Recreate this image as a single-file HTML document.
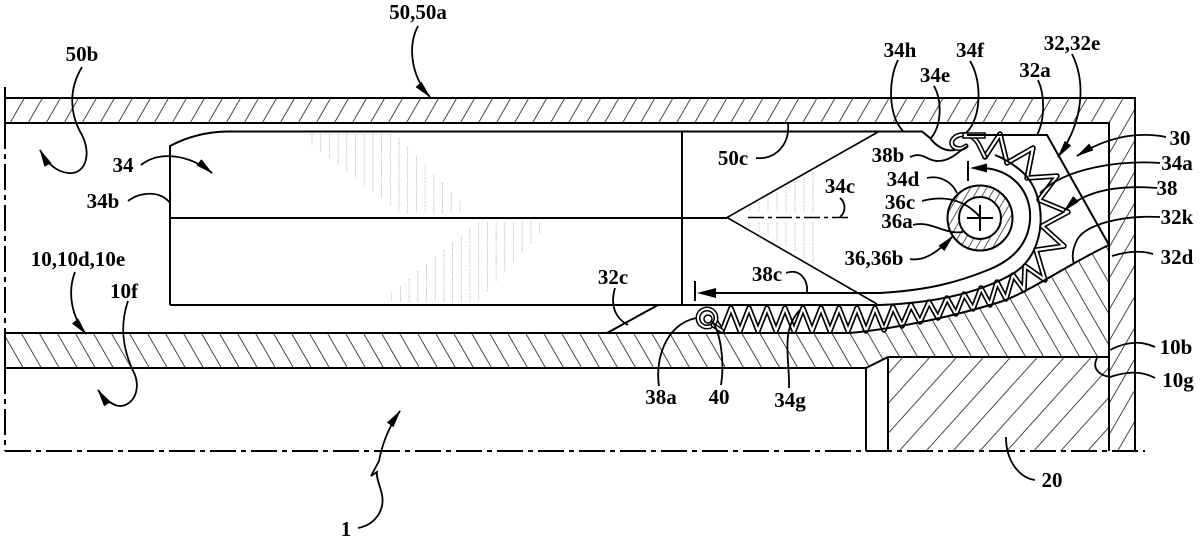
<!DOCTYPE html>
<html><head><meta charset="utf-8"><style>
html,body{margin:0;padding:0;background:#fff;}
svg{display:block;}
text{font-family:"Liberation Serif",serif;font-weight:bold;font-size:21px;fill:#000;}
.o{fill:none;stroke:#000;stroke-width:2;}
.ld{fill:none;stroke:#000;stroke-width:1.8;}
.st{stroke:#aaa;stroke-width:0.8;stroke-dasharray:1.2 1.2;}
</style></head><body>
<svg width="1200" height="540" viewBox="0 0 1200 540" xmlns="http://www.w3.org/2000/svg">
<defs>
<pattern id="hF" patternUnits="userSpaceOnUse" width="15.6" height="30" patternTransform="rotate(30)"><line x1="7.8" y1="-5" x2="7.8" y2="35" stroke="#333" stroke-width="0.9"/></pattern>
<pattern id="hB" patternUnits="userSpaceOnUse" width="15.6" height="30" patternTransform="rotate(-30)"><line x1="7.8" y1="-5" x2="7.8" y2="35" stroke="#333" stroke-width="0.9"/></pattern>
<pattern id="hW" patternUnits="userSpaceOnUse" width="20" height="30" patternTransform="rotate(42)"><line x1="10" y1="-5" x2="10" y2="35" stroke="#333" stroke-width="0.9"/></pattern>
<pattern id="hS" patternUnits="userSpaceOnUse" width="7" height="20" patternTransform="rotate(30)"><line x1="3.5" y1="-5" x2="3.5" y2="25" stroke="#333" stroke-width="0.8"/></pattern>
<marker id="ah" markerWidth="20" markerHeight="10" refX="17" refY="5" orient="auto" markerUnits="userSpaceOnUse"><path d="M0,1 L18,5 L0,9 Z" fill="#000"/></marker>
</defs>
<rect width="1200" height="540" fill="#fff"/>

<!-- hatched housing top & right wall -->
<path d="M5,98 H1135 V451 H1109 V123 H5 Z" fill="url(#hF)"/>
<!-- lower wall / body 32 hatch -->
<path d="M5,333 H850 C900,328 955,316 1000,302 C1030,292 1070,263 1109,245 V357 H888 L866,368 H5 Z" fill="url(#hB)"/>
<!-- body 20 -->
<rect x="888" y="357" width="221" height="94" fill="url(#hW)"/>
<!-- shaft annulus -->
<circle cx="980" cy="218" r="32.5" fill="url(#hS)"/>

<!-- stipple shading -->
<g class="st">
<line x1="312" y1="134" x2="312" y2="145"/><line x1="320.7" y1="134" x2="320.7" y2="151.7"/><line x1="329.4" y1="134" x2="329.4" y2="158.4"/><line x1="338.1" y1="134" x2="338.1" y2="165"/><line x1="346.8" y1="134" x2="346.8" y2="172"/><line x1="355.5" y1="134" x2="355.5" y2="178.5"/><line x1="364.2" y1="134" x2="364.2" y2="185"/><line x1="372.9" y1="134" x2="372.9" y2="192"/><line x1="381.6" y1="134" x2="381.6" y2="198.7"/><line x1="390.3" y1="134" x2="390.3" y2="205.4"/><line x1="399" y1="138" x2="399" y2="212"/><line x1="407.7" y1="147" x2="407.7" y2="213"/><line x1="416.4" y1="156" x2="416.4" y2="213"/><line x1="425.1" y1="165" x2="425.1" y2="213"/><line x1="433.8" y1="174" x2="433.8" y2="213"/><line x1="442.5" y1="183" x2="442.5" y2="213"/><line x1="451.2" y1="192" x2="451.2" y2="213"/><line x1="459.9" y1="201" x2="459.9" y2="213"/>
<line x1="391.7" y1="293" x2="391.7" y2="302"/><line x1="400.4" y1="286" x2="400.4" y2="302"/><line x1="409.1" y1="279" x2="409.1" y2="302"/><line x1="417.8" y1="271" x2="417.8" y2="302"/><line x1="426.5" y1="264" x2="426.5" y2="302"/><line x1="435.2" y1="257" x2="435.2" y2="302"/><line x1="443.9" y1="250" x2="443.9" y2="302"/><line x1="452.6" y1="243" x2="452.6" y2="302"/><line x1="461.3" y1="236" x2="461.3" y2="302"/><line x1="470" y1="229" x2="470" y2="302"/><line x1="478.7" y1="222" x2="478.7" y2="301"/><line x1="487.4" y1="222" x2="487.4" y2="292"/><line x1="496.1" y1="222" x2="496.1" y2="282"/><line x1="504.8" y1="222" x2="504.8" y2="272"/><line x1="513.5" y1="222" x2="513.5" y2="263"/><line x1="522.2" y1="222" x2="522.2" y2="253"/><line x1="530.9" y1="222" x2="530.9" y2="244"/><line x1="539.6" y1="222" x2="539.6" y2="234"/>
<line x1="750" y1="207" x2="750" y2="212"/><line x1="759" y1="202" x2="759" y2="212"/><line x1="768" y1="197" x2="768" y2="212"/><line x1="777" y1="192" x2="777" y2="212"/><line x1="786" y1="187" x2="786" y2="212"/><line x1="795" y1="182" x2="795" y2="212"/><line x1="804" y1="177" x2="804" y2="212"/><line x1="813" y1="172" x2="813" y2="212"/>
<line x1="750" y1="223" x2="750" y2="227"/><line x1="759" y1="223" x2="759" y2="232"/><line x1="768" y1="223" x2="768" y2="237"/><line x1="777" y1="223" x2="777" y2="242"/><line x1="786" y1="223" x2="786" y2="247"/><line x1="795" y1="223" x2="795" y2="252"/><line x1="804" y1="223" x2="804" y2="258"/><line x1="813" y1="223" x2="813" y2="263"/>
</g>

<!-- spring 38 -->
<g fill="none" stroke-linejoin="round" stroke-linecap="round">
<polyline stroke="#000" stroke-width="5.5" points="716,322 722,331 731,308 740,331 749,308 758,331 767,308 776,331 785,308 794,331 803,308 812,331 821,308 830,331 839,308 848,331 857,308 866,331 875,308 884,330 893,307 902,326 911,305 920,322 929,302 938,318 947,298 956,314 964,294 973,309 981,288 990,305 997,282 1006,299 1013,275 1024,290 1025,266 1045,280 1036,250 1064,246 1042,226 1068,212 1039,200 1057,176 1027,178 1033,148 1007,163 1000,134 985,157"/>
<polyline stroke="#fff" stroke-width="2.2" points="716,322 722,331 731,308 740,331 749,308 758,331 767,308 776,331 785,308 794,331 803,308 812,331 821,308 830,331 839,308 848,331 857,308 866,331 875,308 884,330 893,307 902,326 911,305 920,322 929,302 938,318 947,298 956,314 964,294 973,309 981,288 990,305 997,282 1006,299 1013,275 1024,290 1025,266 1045,280 1036,250 1064,246 1042,226 1068,212 1039,200 1057,176 1027,178 1033,148 1007,163 1000,134 985,157"/>
<path stroke="#000" stroke-width="5" d="M985,157 C980,148 978,140 972,137 C965,133 955,134 952,141 C950,148 960,151 966,146"/>
<path stroke="#fff" stroke-width="2" d="M985,157 C980,148 978,140 972,137 C965,133 955,134 952,141 C950,148 960,151 966,146"/>
<circle cx="707" cy="318" r="9" stroke="#000" stroke-width="5"/>
<circle cx="707" cy="318" r="9" stroke="#fff" stroke-width="2"/>
<path stroke="#000" stroke-width="5" d="M713,325 L722,331"/>
<path stroke="#fff" stroke-width="2" d="M713,325 L722,331"/>
</g>
<rect x="963" y="133" width="22" height="5" fill="#fff" stroke="#000" stroke-width="1.5"/>
<circle cx="708" cy="319" r="4" fill="#fff" stroke="#000" stroke-width="1.5"/>

<!-- outlines -->
<g class="o">
<path d="M5,98 H1135 V451"/>
<path d="M5,123 H1109 V451"/>
<path d="M5,87 V123 M5,333 V368"/>
<path d="M5,333 H607 L658,305"/>
<path d="M607,333 H850 C900,328 955,316 1000,302 C1030,292 1070,263 1109,245"/>
<path d="M5,368 H866 L888,357 H1109"/>
<path d="M866,368 V451 M888,357 V451"/>
<path d="M170,305 V146 C185,138 205,132 227,131.5 H922 L930,138 C936,146 945,152 955,150"/>
<path d="M170,305 H880 C935,303 980,293 1014,273 C1048,252 1049,193 1020,170 C1010,162 1003,158 995,155"/>
<path d="M170,218 H727"/>
<path d="M682,131.5 V305"/>
<path d="M878,132 L727,217.5 L877,304" stroke-width="1.6"/>
<path d="M967,135 H1047 L1109,245"/>
<circle cx="980" cy="218" r="32.5"/>
<circle cx="980" cy="218" r="21" fill="#fff"/>
<path d="M967,218 H993 M980,205 V231"/>
<path d="M981,168 C1010,168 1032,190 1030,220 C1028,248 1008,262 988,270 C958,282 930,290 880,293 H712"/>
<path d="M695,281 V301 M968,161 V181"/>
</g>
<path d="M697,293 L716,288 L716,298 Z M970,168 L987,163.5 L987,172.5 Z" fill="#000"/>

<!-- dash-dot lines -->
<g fill="none" stroke="#000" stroke-width="2" stroke-dasharray="26 5 5 5">
<path d="M5,123 V333"/>
<path d="M5,368 V451"/>
<path d="M5,451 H1145"/>
<path d="M748,217.5 H850" stroke-width="1.6" stroke-dasharray="16 4 4 4"/>
</g>

<!-- leaders -->
<g class="ld">
<path d="M418,26 C408,45 410,75 430,97" marker-end="url(#ah)"/>
<path d="M82,67 C68,90 70,115 82,135 C92,155 85,175 68,173 C58,172 48,165 40,150" marker-end="url(#ah)"/>
<path d="M141,165 C160,150 190,155 212,173" marker-end="url(#ah)"/>
<path d="M128,201 C140,192 160,190 170,203"/>
<path d="M75,272 C68,290 70,315 86,334" marker-end="url(#ah)"/>
<path d="M128,301 C118,330 125,355 135,375 C142,395 128,410 115,405 C108,402 102,396 98,390" marker-end="url(#ah)"/>
<path d="M358,528 C375,525 385,510 382,495 C380,485 376,478 377,472 L371,476 L379,461 C382,445 388,428 400,411" marker-end="url(#ah)"/>
<path d="M615,288 C610,305 615,318 628,325"/>
<path d="M786,273 C800,268 808,280 807,292"/>
<path d="M756,158 C775,160 790,145 788,123"/>
<path d="M840,198 C846,203 846,212 840,217"/>
<path d="M898,60 C888,80 888,115 903,131"/>
<path d="M934,86 C942,100 942,125 931,138"/>
<path d="M970,61 C982,80 982,118 966,133"/>
<path d="M1038,80 C1045,95 1045,120 1037,135"/>
<path d="M1072,54 C1085,80 1085,120 1058,157" marker-end="url(#ah)"/>
<path d="M1166,137 C1140,132 1110,135 1077,156" marker-end="url(#ah)"/>
<path d="M1160,163 C1120,160 1065,168 1040,193"/>
<path d="M1157,188 C1120,185 1085,190 1064,211" marker-end="url(#ah)"/>
<path d="M1160,217 C1120,215 1085,225 1077,240 C1072,250 1072,258 1074,264"/>
<path d="M1153,254 C1140,250 1125,252 1112,256"/>
<path d="M910,157 C925,150 928,165 945,160 C955,157 960,150 968,146"/>
<path d="M927,178 C940,175 952,182 957,193"/>
<path d="M922,201 C945,195 965,200 980,217"/>
<path d="M913,225 C930,220 945,235 963,232"/>
<path d="M910,259 C925,262 940,250 953,236" marker-end="url(#ah)"/>
<path d="M1155,347 C1140,340 1125,342 1110,350"/>
<path d="M1155,378 C1140,370 1125,372 1110,377 C1098,375 1092,368 1097,358"/>
<path d="M1035,480 C1020,478 1006,462 1006,437"/>
<path d="M659,386 C655,360 665,325 696,318"/>
<path d="M721,385 C725,360 720,330 711,320"/>
<path d="M789,388 C790,360 780,330 800,310"/>
</g>

<!-- labels -->
<g text-anchor="middle">
<text x="418" y="19">50,50a</text>
<text x="82" y="61">50b</text>
<text x="123" y="172">34</text>
<text x="103" y="208">34b</text>
<text x="78" y="266">10,10d,10e</text>
<text x="124" y="298">10f</text>
<text x="346" y="536">1</text>
<text x="613" y="284">32c</text>
<text x="767" y="281">38c</text>
<text x="733" y="165">50c</text>
<text x="840" y="193">34c</text>
<text x="900" y="57">34h</text>
<text x="970" y="57">34f</text>
<text x="935" y="82">34e</text>
<text x="1035" y="77">32a</text>
<text x="1072" y="50">32,32e</text>
<text x="1180" y="145">30</text>
<text x="1177" y="170">34a</text>
<text x="1167" y="195">38</text>
<text x="1177" y="224">32k</text>
<text x="1177" y="264">32d</text>
<text x="888" y="162">38b</text>
<text x="903" y="186">34d</text>
<text x="900" y="209">36c</text>
<text x="897" y="228">36a</text>
<text x="874" y="265">36,36b</text>
<text x="1176" y="354">10b</text>
<text x="1178" y="387">10g</text>
<text x="1052" y="487">20</text>
<text x="661" y="404">38a</text>
<text x="719" y="404">40</text>
<text x="790" y="407">34g</text>
</g>
</svg>
</body></html>
